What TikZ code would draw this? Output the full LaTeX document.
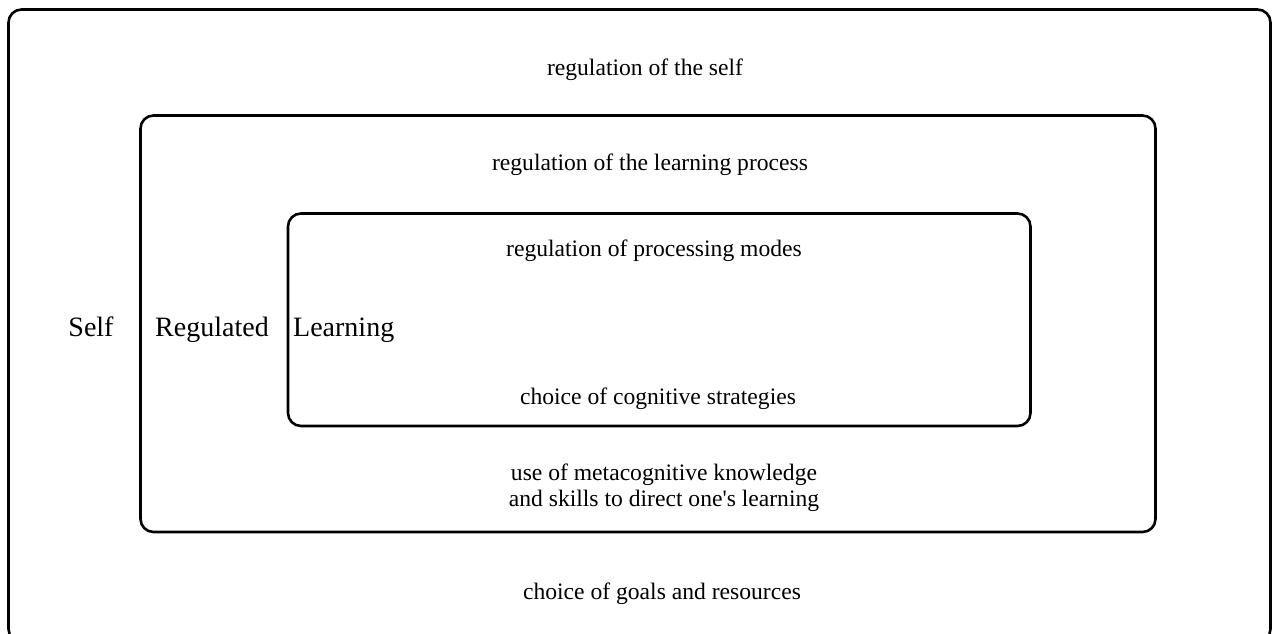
\documentclass[tikz,border=0pt]{standalone}
\usepackage{fontspec}
\setmainfont{Liberation Serif}
\begin{document}
\begin{tikzpicture}[x=1pt,y=-1pt,
  frame/.style={draw=black, line width=2.6pt, rounded corners=13pt},
  small/.style={font=\fontsize{23.6}{26}\selectfont, anchor=base, inner sep=0pt, align=center},
  big/.style={font=\fontsize{28}{32}\selectfont, anchor=base, inner sep=0pt}]
\useasboundingbox (0,0) rectangle (1274,633);
\clip (0,0) rectangle (1274,633);
\fill[white] (0,0) rectangle (1274,633);
\draw[frame] (8.5,9.5) rectangle (1270.5,642);
\draw[frame] (140.5,115.5) rectangle (1155.5,532);
\draw[frame] (288,213.5) rectangle (1030.5,426);
\node[small] (t1) at (645,75) {regulation of the self};
\node[small] (t2) at (650,170) {regulation of the learning process};
\node[small] (t3) at (654,256) {regulation of processing modes};
\node[small] (t4) at (658,404) {choice of cognitive strategies};
\node[small] (t5) at (664,506) {use of metacognitive knowledge\\and skills to direct one\textquotesingle s learning};
\node[small] (t6) at (662,599) {choice of goals and resources};
\node[big] (self) at (91,336) {Self};
\node[big] (reg) at (212,336) {Regulated};
\node[big, anchor=base west] (learn) at (293,336) {Learning};
\end{tikzpicture}
\end{document}
